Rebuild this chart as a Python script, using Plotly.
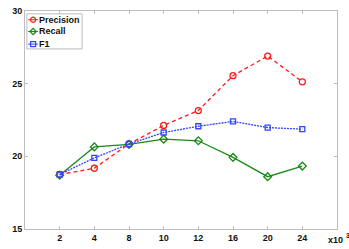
import plotly.graph_objects as go

categories = ["2", "4", "8", "10", "12", "16", "20", "24"]
precision = [18.75, 19.18, 20.85, 22.13, 23.15, 25.55, 26.9, 25.13]
recall = [18.7, 20.65, 20.82, 21.18, 21.07, 19.93, 18.6, 19.33]
f1 = [18.75, 19.89, 20.85, 21.64, 22.07, 22.4, 21.98, 21.87]
y_ticks = [15, 20, 25, 30]
series_names = ["Precision", "Recall", "F1"]

FONT = "Liberation Sans Narrow, Liberation Sans, Arial, sans-serif"
AX = "#bdbdbd"

styles = [
    dict(color="#ff1a1a", dash="4px,3px", symbol="circle-open", size=6),
    dict(color="#1a8a1a", dash="solid", symbol="diamond-open", size=6),
    dict(color="#3344ff", dash="2px,1px", symbol="square-open", size=5),
]

fig = go.Figure()
idx = list(range(len(categories)))
for name, vals, st in zip(series_names, [precision, recall, f1], styles):
    fig.add_trace(go.Scatter(
        x=idx, y=vals, mode="lines+markers", name=name, showlegend=False,
        line=dict(color=st["color"], dash=st["dash"], width=1.3),
        marker=dict(symbol=st["symbol"], size=st["size"], color=st["color"],
                    line=dict(width=1.3, color=st["color"])),
    ))

# custom legend (samples on an overlay axis in [0,1])
leg_y = [0.96, 0.906, 0.848]
for name, st, ly in zip(series_names, styles, leg_y):
    fig.add_trace(go.Scatter(
        x=[0.01, 0.026, 0.042], y=[ly, ly, ly], xaxis="x2", yaxis="y2",
        mode="lines", showlegend=False, hoverinfo="skip",
        line=dict(color=st["color"], dash="solid", width=1),
    ))
    fig.add_trace(go.Scatter(
        x=[0.026], y=[ly], xaxis="x2", yaxis="y2",
        mode="markers", showlegend=False, hoverinfo="skip",
        marker=dict(symbol=st["symbol"], size=5, color=st["color"],
                    line=dict(width=1.2, color=st["color"])),
    ))
    fig.add_annotation(x=0.038, y=ly, xref="x2", yref="y2", text=name,
                       showarrow=False, xanchor="left", yanchor="middle",
                       font=dict(family=FONT, size=9, color="#111", weight="bold"))

fig.add_shape(type="rect", xref="x2", yref="y2", x0=0.006, x1=0.183, y0=0.826, y1=0.987,
              line=dict(color="#bbbbbb", width=1), fillcolor="rgba(0,0,0,0)")

fig.add_annotation(x=0.965, y=-0.049, xref="paper", yref="paper", text="x10",
                   showarrow=False, xanchor="left", yanchor="middle",
                   font=dict(family=FONT, size=9, color="#111", weight="bold"))
fig.add_annotation(x=1.022, y=-0.03, xref="paper", yref="paper", text="3",
                   showarrow=False, xanchor="left", yanchor="middle",
                   font=dict(family=FONT, size=7, color="#111", weight="bold"))

fig.update_layout(
    width=349, height=249,
    margin=dict(l=25, r=12, t=6, b=19),
    plot_bgcolor="white", paper_bgcolor="white",
    font=dict(family=FONT, size=9, color="#111"),
    xaxis=dict(range=[-1, 8], tickmode="array", tickvals=idx, ticktext=categories,
               showgrid=False, zeroline=False, showline=True, linecolor=AX, linewidth=1,
               mirror="ticks", ticks="inside", ticklen=3, tickcolor=AX,
               tickfont=dict(family=FONT, size=9, color="#111", weight="bold")),
    yaxis=dict(range=[15, 30], tickvals=y_ticks,
               showgrid=False, zeroline=False, showline=True, linecolor=AX, linewidth=1,
               mirror="ticks", ticks="inside", ticklen=3, tickcolor=AX,
               tickfont=dict(family=FONT, size=9, color="#111", weight="bold")),
    xaxis2=dict(range=[0, 1], overlaying="x", visible=False, fixedrange=True),
    yaxis2=dict(range=[0, 1], overlaying="y", visible=False, fixedrange=True),
    showlegend=False,
)

fig.write_html("out.html", config={"displayModeBar": False},
               post_script="document.body.style.margin='0';")
